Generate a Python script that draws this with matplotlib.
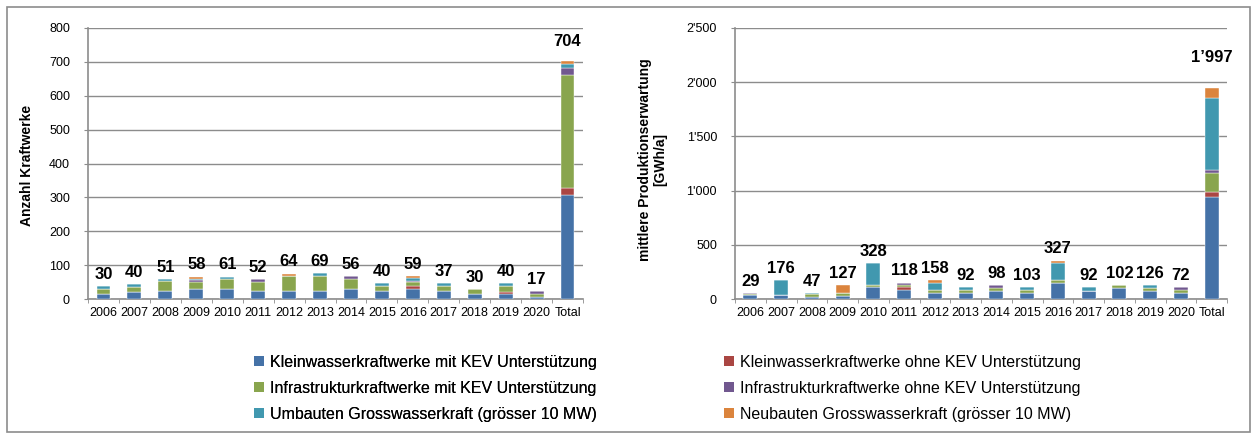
import matplotlib
matplotlib.use("Agg")
import matplotlib.pyplot as plt
from matplotlib.patches import Rectangle, Patch
from matplotlib.ticker import FuncFormatter, MultipleLocator, FixedLocator
import numpy as np

plt.rcParams['font.family'] = ['Liberation Sans', 'DejaVu Sans']

categories = ['2006', '2007', '2008', '2009', '2010', '2011', '2012', '2013', '2014',
              '2015', '2016', '2017', '2018', '2019', '2020', 'Total']

series_names = [
    'Kleinwasserkraftwerke mit KEV Unterstützung',
    'Kleinwasserkraftwerke ohne KEV Unterstützung',
    'Infrastrukturkraftwerke mit KEV Unterstützung',
    'Infrastrukturkraftwerke ohne KEV Unterstützung',
    'Umbauten Grosswasserkraft (grösser 10 MW)',
    'Neubauten Grosswasserkraft (grösser 10 MW)',
]
colors = ['#4572A7', '#AA4643', '#89A54E', '#71588F', '#4198AF', '#DB843D']

# Left chart: Anzahl Kraftwerke
n_klein_mit = [15, 22, 23, 30, 30, 23, 23, 23, 30, 23, 30, 23, 15, 15, 7, 307]
n_klein_ohne = [0, 0, 0, 0, 0, 0, 0, 0, 0, 0, 7, 0, 0, 7, 0, 22]
n_infra_mit = [15, 14, 29, 20, 28, 27, 44, 44, 30, 14, 14, 15, 15, 15, 8, 332]
n_infra_ohne = [0, 0, 0, 6, 0, 10, 0, 0, 7, 0, 3, 0, 0, 0, 8, 22]
n_umbau = [7, 7, 8, 3, 8, 0, 0, 9, 0, 9, 7, 8, 0, 9, 0, 12]
n_neubau = [0, 0, 0, 7, 0, 0, 8, 0, 0, 0, 6, 0, 0, 0, 0, 9]
n_labels = [30, 40, 51, 58, 61, 52, 64, 69, 56, 40, 59, 37, 30, 40, 17, 704]

# Right chart: mittlere Produktionserwartung [GWh/a]
g_klein_mit = [38, 37, 22, 30, 108, 83, 59, 59, 77, 59, 151, 77, 105, 77, 59, 941]
g_klein_ohne = [0, 0, 0, 0, 0, 25, 0, 0, 0, 0, 0, 0, 0, 0, 0, 47]
g_infra_mit = [5, 0, 20, 25, 22, 22, 25, 25, 28, 25, 25, 0, 25, 28, 25, 178]
g_infra_ohne = [15, 0, 0, 0, 0, 22, 0, 0, 25, 0, 0, 0, 0, 0, 25, 25]
g_umbau = [0, 139, 15, 0, 200, 0, 68, 25, 0, 25, 154, 31, 0, 25, 0, 661]
g_neubau = [0, 0, 0, 72, 0, 0, 25, 0, 0, 0, 25, 0, 0, 0, 0, 92]
g_labels = [29, 176, 47, 127, 328, 118, 158, 92, 98, 103, 327, 92, 102, 126, 72, 1997]

left_series = [n_klein_mit, n_klein_ohne, n_infra_mit, n_infra_ohne, n_umbau, n_neubau]
right_series = [g_klein_mit, g_klein_ohne, g_infra_mit, g_infra_ohne, g_umbau, g_neubau]

W, H = 1258, 434
fig = plt.figure(figsize=(W / 100, H / 100), dpi=100)

# outer frame
fig.patches.append(Rectangle((7 / W, 2 / H), (1250 - 7) / W, (427 - 2) / H,
                             transform=fig.transFigure, fill=False,
                             edgecolor='#8c8c8c', linewidth=1.2))

ax1 = fig.add_axes([88 / W, (H - 299) / H, (583 - 88) / W, (299 - 28) / H])
ax2 = fig.add_axes([735 / W, (H - 299) / H, (1227 - 735) / W, (299 - 28) / H])

def fmt(v, pos=None):
    return f"{int(v):,}".replace(',', "'")

def draw(ax, series, labels, ymax, step, total_off):
    x = np.arange(len(categories))
    bottom = np.zeros(len(categories))
    for vals, c in zip(series, colors):
        ax.bar(x, vals, width=0.45, bottom=bottom, color=c, edgecolor='white',
               linewidth=0.3, zorder=3)
        bottom += np.array(vals)
    for i, (b, lab) in enumerate(zip(bottom, labels)):
        off = total_off if categories[i] == 'Total' else 3
        ax.annotate(f"{lab:,}".replace(',', '’'), (x[i], b), xytext=(0, off),
                    textcoords='offset points', ha='center', va='bottom',
                    fontsize=12, fontweight='bold', color='black', zorder=4)
    ax.set_xlim(-0.5, len(categories) - 0.5)
    ax.set_ylim(0, ymax)
    ax.yaxis.set_major_locator(MultipleLocator(step))
    ax.yaxis.set_major_formatter(FuncFormatter(fmt))
    ax.set_xticks(x)
    ax.set_xticklabels(categories, fontsize=9)
    ax.xaxis.set_minor_locator(FixedLocator(np.arange(-0.5, len(categories), 1)))
    ax.tick_params(axis='x', which='major', length=0, pad=6)
    ax.tick_params(axis='x', which='minor', length=3, color='#8c8c8c', direction='out')
    ax.tick_params(axis='y', length=3, color='#8c8c8c', labelsize=9, pad=10)
    ax.grid(axis='y', color='#8c8c8c', linewidth=1, zorder=0)
    ax.set_axisbelow(True)
    for s in ['top', 'right']:
        ax.spines[s].set_visible(False)
    for s in ['left', 'bottom']:
        ax.spines[s].set_color('#8c8c8c')
        ax.spines[s].set_linewidth(1.2)

draw(ax1, left_series, n_labels, 800, 100, 8)
draw(ax2, right_series, g_labels, 2500, 500, 17)

fig.text(27 / W, (H - 165) / H, 'Anzahl Kraftwerke', rotation=90, ha='center',
         va='center', fontsize=10, fontweight='bold')
fig.text(653 / W, (H - 160) / H, 'mittlere Produktionserwartung\n[GWh/a]', rotation=90,
         ha='center', va='center', fontsize=10, fontweight='bold', linespacing=1.1)

handles = [Patch(facecolor=c, edgecolor='none') for c in colors]
leg_kw = dict(loc='upper left', frameon=False, fontsize=11.5, handlelength=0.6,
              handleheight=0.6, handletextpad=0.4, labelspacing=0.68,
              borderaxespad=0, borderpad=0)
leg1 = fig.legend([handles[0], handles[2], handles[4]],
                  [series_names[0], series_names[2], series_names[4]],
                  bbox_to_anchor=(254 / W, (H - 355) / H), **leg_kw)
leg2 = fig.legend([handles[1], handles[3], handles[5]],
                  [series_names[1], series_names[3], series_names[5]],
                  bbox_to_anchor=(724 / W, (H - 355) / H), **leg_kw)
fig.add_artist(leg1)

fig.savefig('out.png', dpi=100)
